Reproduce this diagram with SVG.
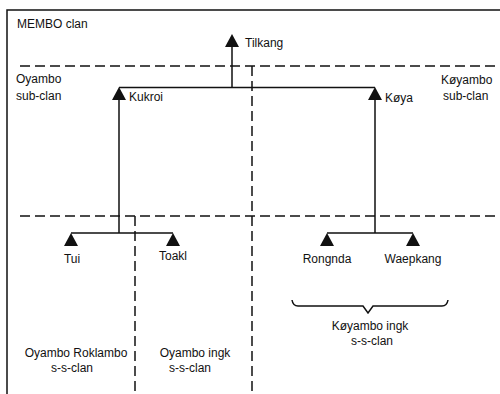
<svg xmlns="http://www.w3.org/2000/svg" width="500" height="394" viewBox="0 0 500 394">
<defs>
<style>
text{font-family:"Liberation Sans",Arial,sans-serif;font-size:12px;fill:#111}
.b{stroke:#111;stroke-width:1.5;fill:none}
.d{stroke:#111;stroke-width:1.5;fill:none;stroke-dasharray:10 5}
.tri{fill:#111}
.m{text-anchor:middle}
</style>
<path id="t" d="M-7,13 L0,0 L7,13 Z"/>
</defs>
<rect width="500" height="394" fill="#fff"/>
<g id="frame">
<path class="b" d="M7,394 V10 H500"/>
<path class="d" d="M20,66 H500"/>
<path class="d" d="M20,216 H500"/>
<path class="d" d="M252,66 V394"/>
<path class="d" d="M135,216 V394"/>
</g>
<g id="connectors">
<path class="b" d="M232,46 V87.5 M119,87.5 H375 M119,100 V233 M375,100 V233 M71,233 H173 M327,233 H413"/>
<path class="b" d="M292,300 Q293,306 298,306 H363 L368,313 L373,306 H442 Q447,306 448,300"/>
</g>
<g id="tilkang"><use href="#t" class="tri" x="232" y="34"/><text x="245" y="47">Tilkang</text></g>
<g id="kukroi"><use href="#t" class="tri" x="119" y="87"/><text x="129" y="101">Kukroi</text></g>
<g id="koya"><use href="#t" class="tri" x="375" y="87"/><text x="385" y="102">Køya</text></g>
<g id="tui"><use href="#t" class="tri" x="71" y="233"/><text class="m" x="72" y="263">Tui</text></g>
<g id="toakl"><use href="#t" class="tri" x="173" y="233"/><text class="m" x="173" y="260">Toakl</text></g>
<g id="rongnda"><use href="#t" class="tri" x="327" y="233"/><text class="m" x="327" y="263">Rongnda</text></g>
<g id="waepkang"><use href="#t" class="tri" x="413" y="233"/><text class="m" x="413" y="263">Waepkang</text></g>
<g id="labels">
<text x="17" y="28">MEMBO clan</text>
<text x="16" y="83">Oyambo</text>
<text x="16" y="100">sub-clan</text>
<text x="441" y="84">Køyambo</text>
<text x="443" y="100">sub-clan</text>
<text class="m" x="370" y="330">Køyambo ingk</text>
<text class="m" x="372" y="345">s-s-clan</text>
<text class="m" x="76" y="357">Oyambo Roklambo</text>
<text class="m" x="72" y="372">s-s-clan</text>
<text class="m" x="195" y="357">Oyambo ingk</text>
<text class="m" x="190" y="372">s-s-clan</text>
</g>
</svg>
